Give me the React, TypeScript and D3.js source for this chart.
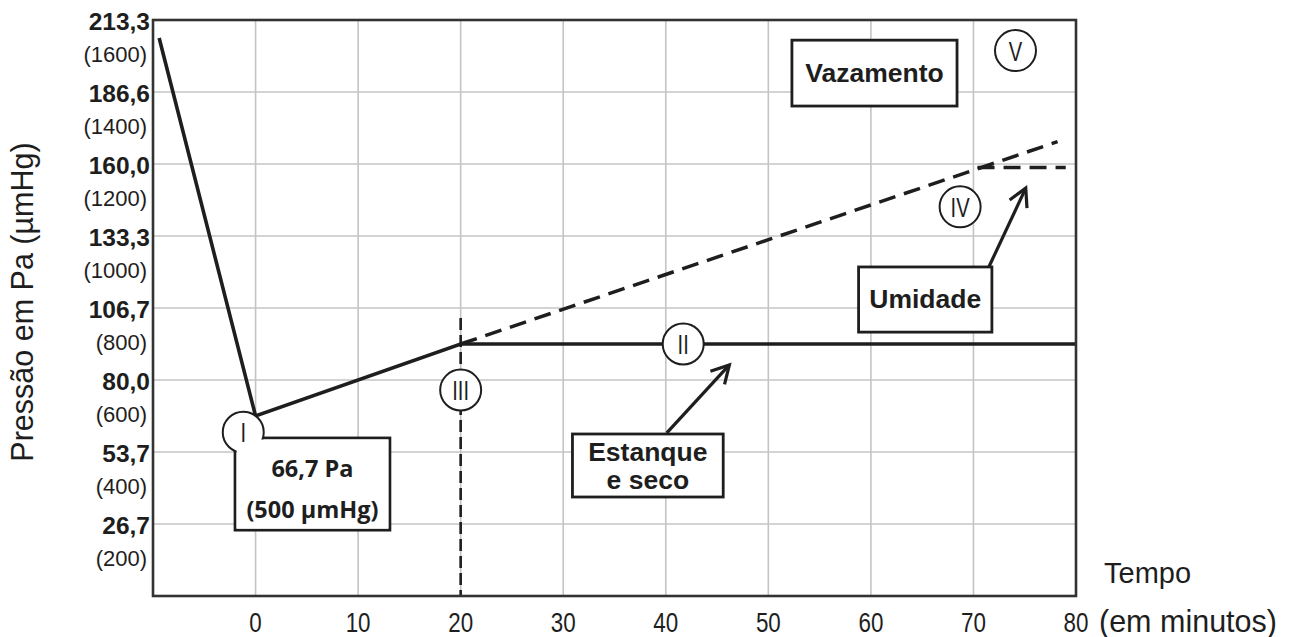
import React from "react";
import * as d3 from "d3";

// ---- data ----
const timeTicks = [0, 10, 20, 30, 40, 50, 60, 70, 80];
const gridTimes = [0, 10, 20, 30, 40, 50, 60, 70];
const umHgTicks = [200, 400, 600, 800, 1000, 1200, 1400, 1600];
const paTickLabels = ["26,7", "53,7", "80,0", "106,7", "133,3", "160,0", "186,6", "213,3"];
const umHgTickLabels = ["(200)", "(400)", "(600)", "(800)", "(1000)", "(1200)", "(1400)", "(1600)"];

const solidTime = [-9.4, 0, 20, 80];
const solidPressure = [1550, 500, 700, 700];
const leakTime = [20, 78.2];
const leakPressure = [700, 1262];
const humidTime = [70.4, 79];
const humidPressure = [1190, 1190];
const stageTime = [20, 20];
const stagePressure = [772, 0];

const phaseLabels = ["I", "II", "III", "IV", "V"];
const phaseTime = [-1.2, 41.7, 20, 68.7, 74.1];
const phasePressure = [455, 700, 572, 1081, 1515];

// annotation boxes (data coordinates)
const boxTexts = [["66,7 Pa", "(500 µmHg)"], ["Estanque", "e seco"], ["Vazamento"], ["Umidade"]];
const boxTime = [[-2.0, 13.1], [30.9, 45.6], [52.3, 68.4], [58.8, 71.8]];
const boxPressure = [[439, 183], [450, 275], [1544, 1361], [914, 733]];

const arrowTime = [[40.1, 46.2], [71.5, 75.1]];
const arrowPressure = [[453, 642], [914, 1133]];

const W = 1289;
const H = 637;

export default function App() {
  const x = d3.scaleLinear().domain([-10, 80]).range([153, 1076]);
  const y = d3.scaleLinear().domain([0, 1600]).range([596, 20]);
  const line = d3
    .line<[number, number]>()
    .x((d) => x(d[0]))
    .y((d) => y(d[1]));
  const pts = (t: number[], p: number[]) => t.map((v, i) => [v, p[i]] as [number, number]);

  const ink = "#1e1e1e";
  const sans = "'Liberation Sans', Arial, sans-serif";

  const arrowHead = (x0: number, y0: number, x1: number, y1: number) => {
    const a = Math.atan2(y1 - y0, x1 - x0);
    const L = 20;
    const s = 0.5;
    const p1 = [x1 - L * Math.cos(a - s), y1 - L * Math.sin(a - s)];
    const p2 = [x1 - L * Math.cos(a + s), y1 - L * Math.sin(a + s)];
    return `M${p1[0]},${p1[1]}L${x1},${y1}L${p2[0]},${p2[1]}`;
  };

  return (
    <svg
      width={W}
      height={H}
      style={{ position: "absolute", left: 0, top: 0, background: "#fff" }}
    >
      <rect x={0} y={0} width={W} height={H} fill="#fff" />
      {/* grid */}
      {gridTimes.map((t) => (
        <line key={"gx" + t} x1={x(t)} x2={x(t)} y1={y(0)} y2={y(1600)} stroke="#c4c4c4" strokeWidth={1.6} />
      ))}
      {umHgTicks.slice(0, -1).map((v) => (
        <line key={"gy" + v} x1={x(-10)} x2={x(80)} y1={y(v)} y2={y(v)} stroke="#c4c4c4" strokeWidth={1.6} />
      ))}

      {/* lines */}
      <path d={line(pts(stageTime, stagePressure)) || ""} fill="none" stroke={ink} strokeWidth={2.6} strokeDasharray="12 5" />
      <path d={line(pts(leakTime, leakPressure)) || ""} fill="none" stroke={ink} strokeWidth={3.5} strokeDasharray="17 9" />
      <path d={line(pts(humidTime, humidPressure)) || ""} fill="none" stroke={ink} strokeWidth={3.5} strokeDasharray="17 9" />
      <path d={line(pts(solidTime, solidPressure)) || ""} fill="none" stroke={ink} strokeWidth={3.6} strokeLinejoin="miter" />

      {/* frame */}
      <rect x={x(-10)} y={y(1600)} width={x(80) - x(-10)} height={y(0) - y(1600)} fill="none" stroke="#333" strokeWidth={2.6} />

      {/* arrows */}
      {arrowTime.map((t, i) => {
        const x0 = x(t[0]), x1 = x(t[1]), y0 = y(arrowPressure[i][0]), y1 = y(arrowPressure[i][1]);
        return (
          <g key={"ar" + i} stroke={ink} strokeWidth={3.2} fill="none">
            <line x1={x0} y1={y0} x2={x1} y2={y1} />
            <path d={arrowHead(x0, y0, x1, y1)} strokeLinejoin="miter" />
          </g>
        );
      })}

      {/* boxes */}
      {boxTime.map((t, i) => {
        const bx0 = x(t[0]), bx1 = x(t[1]), by0 = y(boxPressure[i][0]), by1 = y(boxPressure[i][1]);
        return (
          <rect key={"bx" + i} x={bx0} y={by0} width={bx1 - bx0} height={by1 - by0} fill="#fff" stroke={ink} strokeWidth={2.8} />
        );
      })}

      {/* phase circles */}
      {phaseLabels.map((lab, i) => (
        <circle key={"c" + i} cx={x(phaseTime[i])} cy={y(phasePressure[i])} r={20.5} fill="#fff" stroke={ink} strokeWidth={2} />
      ))}
      {/* cover the part of circle I that falls inside its box */}
      <rect
        x={x(boxTime[0][0]) + 1.6}
        y={y(boxPressure[0][0]) + 1.6}
        width={x(boxTime[0][1]) - x(boxTime[0][0]) - 3.2}
        height={y(boxPressure[0][1]) - y(boxPressure[0][0]) - 3.2}
        fill="#fff"
      />
      {phaseLabels.map((lab, i) => (
        <text
          key={"t" + i}
          transform={`translate(${x(phaseTime[i])},${y(phasePressure[i]) + 10}) scale(0.72,1)`}
          textAnchor="middle"
          fontFamily={sans}
          fontSize={28}
          fill={ink}
        >
          {lab}
        </text>
      ))}

      {/* box texts */}
      <g fontFamily="'Open Sans', sans-serif" fontWeight={700} fontSize={23.5} fill={ink} textAnchor="middle">
        <text x={(x(boxTime[0][0]) + x(boxTime[0][1])) / 2} y={477}>{boxTexts[0][0]}</text>
        <text x={(x(boxTime[0][0]) + x(boxTime[0][1])) / 2} y={518}>{boxTexts[0][1]}</text>
      </g>
      <g fontFamily={sans} fontWeight={700} fontSize={26.5} fill={ink} textAnchor="middle">
        <text x={(x(boxTime[1][0]) + x(boxTime[1][1])) / 2} y={461}>{boxTexts[1][0]}</text>
        <text x={(x(boxTime[1][0]) + x(boxTime[1][1])) / 2} y={489}>{boxTexts[1][1]}</text>
        <text x={(x(boxTime[2][0]) + x(boxTime[2][1])) / 2} y={82}>{boxTexts[2][0]}</text>
        <text x={(x(boxTime[3][0]) + x(boxTime[3][1])) / 2} y={308}>{boxTexts[3][0]}</text>
      </g>

      {/* y tick labels */}
      <g fontFamily={sans} fill={ink} textAnchor="end">
        {umHgTicks.map((v, i) => (
          <g key={"yl" + v}>
            <text x={150} y={y(v) + 10} fontSize={24.5} fontWeight={700}>{paTickLabels[i]}</text>
            <text x={147} y={y(v) + 42} fontSize={22}>{umHgTickLabels[i]}</text>
          </g>
        ))}
      </g>

      {/* x tick labels (narrow) */}
      <g fontFamily={sans} fontSize={28} fill={ink} textAnchor="middle">
        {timeTicks.map((t) => (
          <text key={"xl" + t} transform={`translate(${x(t)},632) scale(0.8,1)`}>{t}</text>
        ))}
      </g>

      {/* axis titles */}
      <text transform="translate(33,302) rotate(-90)" textAnchor="middle" fontFamily={sans} fontSize={30.5} fill={ink}>
        Pressão em Pa (µmHg)
      </text>
      <text x={1104} y={583} fontFamily={sans} fontSize={29} fill={ink}>Tempo</text>
      <text x={1099} y={632} fontFamily={sans} fontSize={30.5} fill={ink}>(em minutos)</text>
    </svg>
  );
}
